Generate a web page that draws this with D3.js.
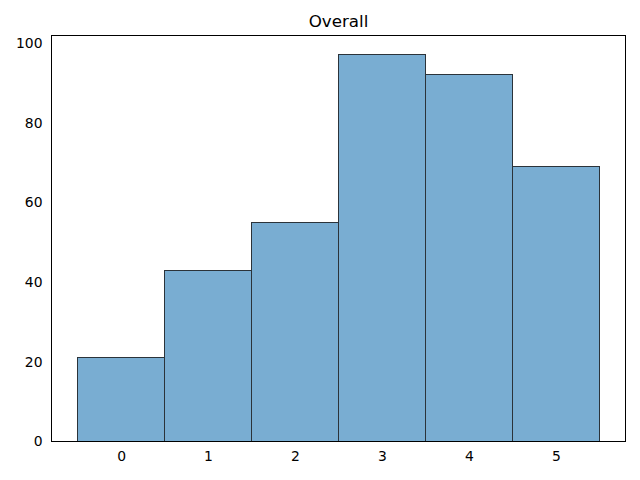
<!DOCTYPE html>
<html><head><meta charset="utf-8">
<script src="https://cdn.jsdelivr.net/npm/d3@7"></script>
<style>body{margin:0;background:#fff}</style>
</head><body>
<svg id="c" width="640" height="480"></svg>
<script>
const categories = [0, 1, 2, 3, 4, 5];
const counts = [21, 43, 55, 97, 92, 69];
const yTicks = [0, 20, 40, 60, 80, 100];
const title = "Overall";

const svg = d3.select("#c");
const L = 51.5, R = 625.5, T = 35.5, B = 441.5;
const font = "DejaVu Sans, sans-serif";

const x = d3.scaleLinear().domain([-0.8, 5.8]).range([L, R]);
const y = d3.scaleLinear().domain([0, 97 * 1.05]).range([B, T]);

svg.append("rect").attr("width", 640).attr("height", 480).attr("fill", "#fff");

svg.append("g").selectAll("rect").data(categories).join("rect")
  .attr("x", d => Math.round(x(d - 0.5) - 0.5) + 0.5)
  .attr("width", d => Math.round(x(d + 0.5) - x(d - 0.5)))
  .attr("y", (d, i) => Math.round(y(counts[i]) - 0.5) + 0.5)
  .attr("height", (d, i) => B - (Math.round(y(counts[i]) - 0.5) + 0.5))
  .attr("fill", "#79add2")
  .attr("stroke", "#2b333a")
  .attr("stroke-width", 1);

const xAxis = svg.append("g").attr("transform", `translate(0,${B})`)
  .call(d3.axisBottom(x).tickValues(categories).tickSize(0).tickPadding(10).tickFormat(d3.format("d")));
const yAxis = svg.append("g").attr("transform", `translate(${L},0)`)
  .call(d3.axisLeft(y).tickValues(yTicks).tickSize(0).tickPadding(9).tickFormat(d3.format("d")));
[xAxis, yAxis].forEach(g => {
  g.select(".domain").remove();
  g.selectAll("text").attr("font-family", font).attr("font-size", "13.9px").attr("fill", "#000");
});

svg.append("rect").attr("x", L).attr("y", T).attr("width", R - L).attr("height", B - T)
  .attr("fill", "none").attr("stroke", "#000").attr("stroke-width", 1);

svg.append("text").attr("x", (L + R) / 2).attr("y", 27).attr("text-anchor", "middle")
  .attr("font-family", font).attr("font-size", "16.7px").attr("fill", "#000").text(title);
</script>
</body></html>
